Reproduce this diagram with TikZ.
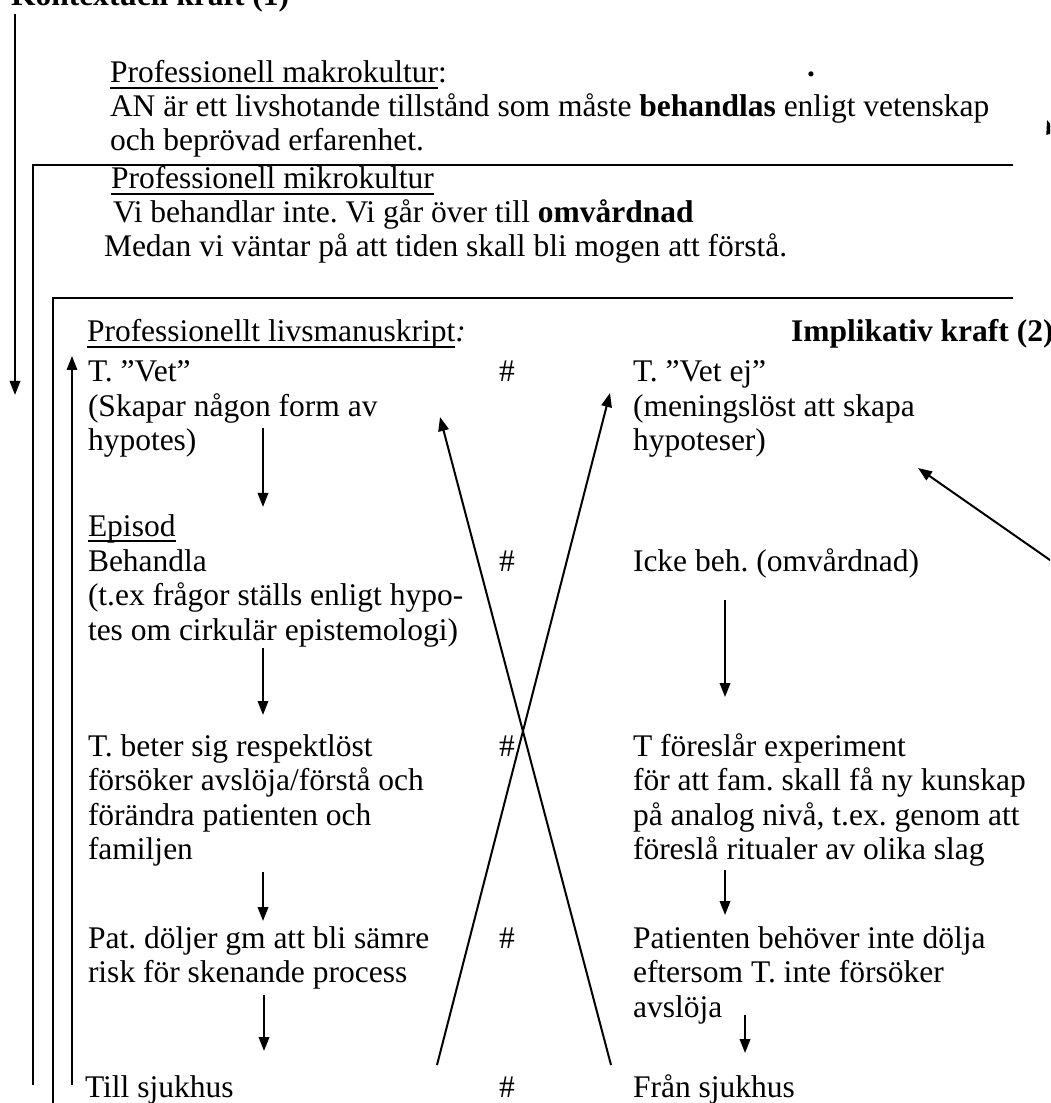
\documentclass[tikz,border=0pt]{standalone}
\usepackage{fontspec}
\setmainfont{Liberation Serif}
\usetikzlibrary{arrows.meta, positioning}

\newcommand{\wordul}[1]{\setbox0\hbox{#1}\rlap{\rule[-0.2em]{\wd0}{0.06em}}\box0}

\begin{document}
\frenchspacing
\begin{tikzpicture}[
    x=0.4pt, y=-0.4pt,
    line width=0.8pt,
    txt/.style={
        anchor=base west,
        inner sep=0pt,
        font=\fontsize{12.6}{14}\selectfont
    },
    boldtxt/.style={
        txt,
        font=\fontsize{12.6}{14}\selectfont\bfseries
    },
    arrow/.style={
        -{Triangle[width=4.2pt,length=5.6pt]}
    }
]

\useasboundingbox (0,0) rectangle (1050,1103);
\clip (0,0) rectangle (1050,1103);

% Title
\node[boldtxt] (kontext) at (10,6) {Kontextuell kraft (1)};

% Macro culture
\node[txt] (makro) at (109,83) {\wordul{Professionell makrokultur}:};
\node[txt] (makro2) at (109,117) {AN är ett livshotande tillstånd som måste \textbf{behandlas} enligt vetenskap};
\node[txt] (makro3) at (109,151) {och beprövad erfarenhet.};
\node[txt] (punkt) at (806,77) {\textbf{.}};

% Micro culture
\node[txt] (mikro) at (110,189) {\wordul{Professionell mikrokultur}};
\node[txt] (mikro2) at (112,223) {Vi behandlar inte. Vi går över till \textbf{omvårdnad}};
\node[txt] (mikro3) at (103,257) {Medan vi väntar på att tiden skall bli mogen att förstå.};

% Life script
\node[txt] (manus) at (86,342) {\wordul{Professionellt livsmanuskript}\textit{:}};
\node[boldtxt] (implik) at (790,342) {Implikativ kraft (2)};

% Left column
\node[txt] (vet) at (87,382) {T. ”Vet”};
\node[txt] (vet2) at (87,416.5) {(Skapar någon form av};
\node[txt] (vet3) at (87,451) {hypotes)};
\node[txt] (episod) at (87,536) {\wordul{Episod}};
\node[txt] (beh) at (87,571) {Behandla};
\node[txt] (beh2) at (87,605.5) {(t.ex frågor ställs enligt hypo-};
\node[txt] (beh3) at (87,640) {tes om cirkulär epistemologi)};
\node[txt] (beter) at (87,756) {T. beter sig respektlöst};
\node[txt] (beter2) at (87,790.5) {försöker avslöja/förstå och};
\node[txt] (beter3) at (87,825) {förändra patienten och};
\node[txt] (beter4) at (87,859.5) {familjen};
\node[txt] (dolj) at (87,948) {Pat. döljer gm att bli sämre};
\node[txt] (dolj2) at (87,982.5) {risk för skenande process};
\node[txt] (till) at (84,1097) {Till sjukhus};

% Separators
\foreach \y in {382, 571, 756, 948, 1097} {
    \node[txt] at (498,\y) {\#};
}

% Right column
\node[txt] (vetej) at (632,382) {T. ”Vet ej”};
\node[txt] (vetej2) at (632,416.5) {(meningslöst att skapa};
\node[txt] (vetej3) at (632,451) {hypoteser)};
\node[txt] (icke) at (632,571) {Icke beh. (omvårdnad)};
\node[txt] (exp) at (632,756) {T föreslår experiment};
\node[txt] (exp2) at (632,790.5) {för att fam. skall få ny kunskap};
\node[txt] (exp3) at (632,825) {på analog nivå, t.ex. genom att};
\node[txt] (exp4) at (632,859.5) {föreslå ritualer av olika slag};
\node[txt] (pat) at (632,948) {Patienten behöver inte dölja};
\node[txt] (pat2) at (632,982.5) {eftersom T. inte försöker};
\node[txt] (pat3) at (632,1017) {avslöja};
\node[txt] (fran) at (632,1097) {Från sjukhus};

% Frames
\draw (1013,165) -- (33,165) -- (33,1085);
\draw (1013,298) -- (53,298) -- (53,1110);

% Arrows
\draw[arrow] (15,14) -- (15,395);
\draw[arrow] (72,1085) -- (72,356);
\draw[arrow] (263,428) -- (263,507);
\draw[arrow] (263,648) -- (263,715);
\draw[arrow] (263,872) -- (263,921);
\draw[arrow] (264,995) -- (264,1051);
\draw[arrow] (725,600) -- (725,697);
\draw[arrow] (725,870) -- (725,915);
\draw[arrow] (745,1015) -- (745,1053);
\draw[arrow] (437,1065) -- (610,393);
\draw[arrow] (611,1065) -- (440,417);
\draw[arrow] (1070,574) -- (918,468);
\draw[arrow] (1076,205) -- (1047,120);

\end{tikzpicture}
\end{document}
